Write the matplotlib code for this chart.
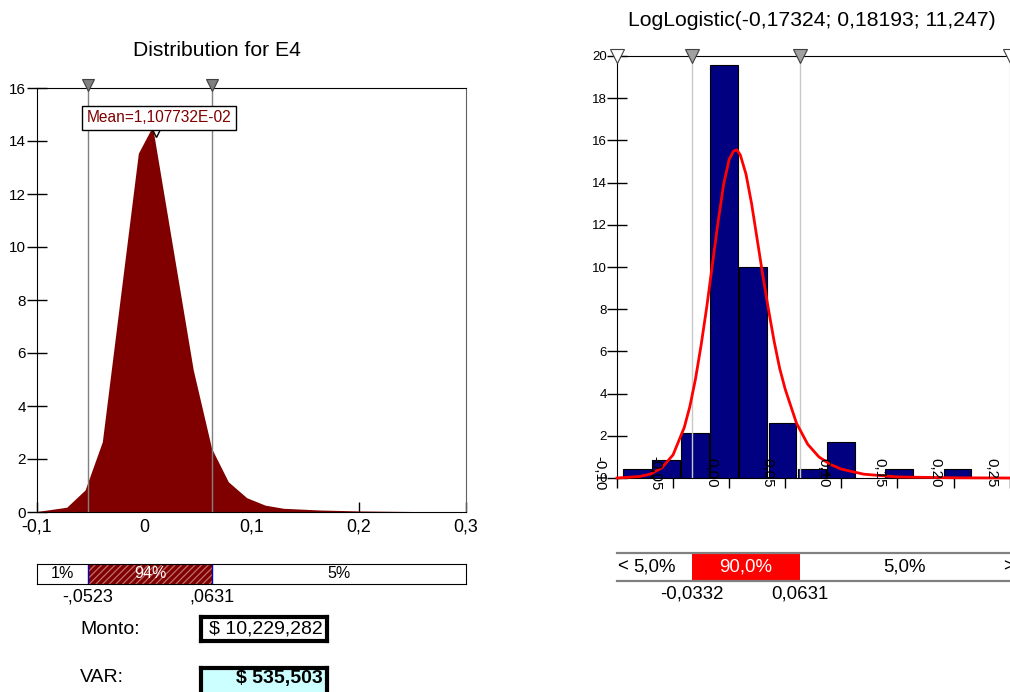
import matplotlib
matplotlib.use("Agg")
import matplotlib.pyplot as plt

plt.rcParams['font.family'] = ['Liberation Sans', 'DejaVu Sans']
plt.rcParams['hatch.linewidth'] = 0.9

# ---------------- data ----------------
left_title = "Distribution for E4"
dist_x = [-0.100, -0.0723, -0.0552, -0.0391, -0.0055, 0.0077, 0.0457, 0.0628,
          0.0784, 0.0955, 0.1126, 0.1297, 0.1639, 0.2010, 0.2690, 0.2700]
dist_y = [0.02, 0.18, 0.83, 2.65, 13.54, 14.55, 5.36, 2.40,
          1.14, 0.54, 0.26, 0.14, 0.075, 0.04, 0.01, 0.0]
left_mean = 0.01107732
left_mean_label = "Mean=1,107732E-02"
left_pcts = [-0.0523, 0.0631]
left_pct_labels = ["-,0523", ",0631"]
left_band_labels = ["1%", "94%", "5%"]
left_xticks = [-0.1, 0.0, 0.1, 0.2, 0.3]
left_xticklabels = ["-0,1", "0", "0,1", "0,2", "0,3"]
left_yticks = [0, 2, 4, 6, 8, 10, 12, 14, 16]

right_title = "LogLogistic(-0,17324; 0,18193; 11,247)"
bin_left = [-0.0955, -0.0695, -0.0435, -0.0175, 0.0085, 0.0345, 0.0605, 0.0865,
            0.1125, 0.1385, 0.1645, 0.1905]
bin_width = 0.026
bin_heights = [0.41, 0.85, 2.15, 19.57, 9.98, 2.59, 0.41, 1.71, 0.0, 0.41, 0.0, 0.41]
fit_x = [-0.100, -0.080, -0.070, -0.060, -0.050, -0.040, -0.035, -0.030, -0.025,
         -0.020, -0.015, -0.010, -0.005, 0.000, 0.004, 0.007, 0.010, 0.015, 0.020,
         0.025, 0.030, 0.035, 0.040, 0.045, 0.050, 0.060, 0.070, 0.080, 0.090,
         0.100, 0.120, 0.150, 0.200, 0.250]
fit_y = [0.0, 0.07, 0.19, 0.48, 1.1, 2.4, 3.4, 4.7, 6.3,
         8.1, 10.1, 12.1, 13.9, 15.1, 15.5, 15.55, 15.3, 14.4, 13.0,
         11.3, 9.6, 8.0, 6.5, 5.2, 4.2, 2.6, 1.6, 1.0, 0.65,
         0.42, 0.18, 0.05, 0.01, 0.0]
right_pcts = [-0.0332, 0.0631]
right_pct_labels = ["-0,0332", "0,0631"]
right_band_labels = ["5,0%", "90,0%", "5,0%"]
right_xticks = [-0.10, -0.05, 0.00, 0.05, 0.10, 0.15, 0.20, 0.25]
right_xticklabels = ["-0,10", "-0,05", "0,00", "0,05", "0,10", "0,15", "0,20", "0,25"]
right_yticks = [0, 2, 4, 6, 8, 10, 12, 14, 16, 18, 20]

monto_label = "Monto:"
monto_value = "$ 10,229,282"
var_label = "VAR:"
var_value = "$ 535,503"

# ---------------- layout helpers ----------------
W, H = 1010, 692
fig = plt.figure(figsize=(W / 100, H / 100), dpi=100)
fig.patch.set_facecolor('white')


def fax(x0, y0, x1, y1):
    return fig.add_axes([x0 / W, 1 - y1 / H, (x1 - x0) / W, (y1 - y0) / H])


# ---------------- left chart ----------------
axL = fax(37, 88, 466, 512)
axL.set_xlim(-0.1, 0.3)
axL.set_ylim(0, 16)
axL.fill_between(dist_x, dist_y, 0, color='#800000', lw=0, zorder=2)
for p in left_pcts:
    axL.axvline(p, color='#808080', lw=1, zorder=3)
transL = axL.get_xaxis_transform()
axL.plot(left_pcts, [1.008] * len(left_pcts), 'v', ms=9, mfc='#808080', mec='#404040',
         mew=0.8, transform=transL, clip_on=False, zorder=6)
axL.plot([left_mean], [14.33], 'v', ms=7, mfc='white', mec='black', mew=1, zorder=7)
axL.text(0.0137, 14.87, left_mean_label, color='#800000', fontsize=11.2, ha='center',
         va='center', zorder=8,
         bbox=dict(boxstyle='square,pad=0.3', fc='white', ec='black', lw=1))
axL.set_yticks(left_yticks)
axL.set_yticklabels([str(v) for v in left_yticks])
axL.set_xticks(left_xticks)
axL.set_xticklabels(left_xticklabels)
axL.tick_params(axis='y', direction='inout', length=14, width=1, pad=1, labelsize=11)
axL.tick_params(axis='x', direction='in', length=7, width=1, pad=5, labelsize=12.8)
for s in ['left', 'top', 'bottom']:
    axL.spines[s].set_color('black')
axL.spines['right'].set_color('#606060')
fig.text(217 / W, 1 - 51 / H, left_title, ha='center', va='center', fontsize=15.2)

# left band
axLB = fax(37, 563.5, 466, 584)
axLB.set_xlim(-0.1, 0.3)
axLB.set_ylim(0, 1)
axLB.set_xticks([])
axLB.set_yticks([])
axLB.axvspan(left_pcts[0], left_pcts[1], facecolor='#800000', edgecolor='#c07070',
             hatch='/////', lw=0)
for p in left_pcts:
    axLB.axvline(p, color='#0000c0', lw=1)
band_edges_L = [-0.1, left_pcts[0], left_pcts[1], 0.3]
for i, lab in enumerate(left_band_labels):
    axLB.text((band_edges_L[i] + band_edges_L[i + 1]) / 2, 0.5, lab, ha='center',
              va='center', fontsize=11.6, color='white' if i == 1 else 'black')
tLB = axLB.get_xaxis_transform()
for p, lab in zip(left_pcts, left_pct_labels):
    axLB.text(p, -0.62, lab, transform=tLB, ha='center', va='center', fontsize=13)

# Monto / VAR boxes
fig.text(80 / W, 1 - 630 / H, monto_label, ha='left', va='center', fontsize=14)
fig.text(80 / W, 1 - 678 / H, var_label, ha='left', va='center', fontsize=14)
axM = fax(201, 616.5, 327, 641)
axV = fax(201, 668, 327, 696)
for a, txt, fc, yy, wt in [(axM, monto_value, 'white', 0.5, 'normal'),
                            (axV, var_value, '#ccffff', 0.63, 'bold')]:
    a.set_xticks([])
    a.set_yticks([])
    a.set_facecolor(fc)
    for s in a.spines.values():
        s.set_linewidth(3)
        s.set_color('black')
    a.text(0.968, yy, txt, transform=a.transAxes, ha='right', va='center',
           fontsize=14, fontweight=wt)

# ---------------- right chart ----------------
axR = fax(617, 56, 1009.6, 478)
axR.set_xlim(-0.1, 0.25)
axR.set_ylim(0, 20)
gap = 0.0012
bx = [b + gap / 2 for b, h in zip(bin_left, bin_heights) if h > 0]
bh = [h for h in bin_heights if h > 0]
axR.bar(bx, bh, width=bin_width - gap, align='edge', color='#000080',
        edgecolor='black', lw=0.8, zorder=2)
for p in right_pcts:
    axR.axvline(p, color='#c8c8c8', lw=1, zorder=3)
axR.plot(fit_x, fit_y, color='#ff0000', lw=2, zorder=4, clip_on=False)
transR = axR.get_xaxis_transform()
axR.plot([-0.1, 0.25], [1.0, 1.0], 'v', ms=10, mfc='white', mec='#404040', mew=0.8,
         transform=transR, clip_on=False, zorder=6)
axR.plot(right_pcts, [1.0, 1.0], 'v', ms=10, mfc='#a0a0a0', mec='#404040', mew=0.8,
         transform=transR, clip_on=False, zorder=6)
axR.set_yticks(right_yticks)
axR.set_yticklabels([str(v) for v in right_yticks])
axR.set_xticks(right_xticks)
axR.set_xticklabels([])
axR.tick_params(axis='y', direction='inout', length=14, width=1, pad=0.5, labelsize=9.5)
axR.tick_params(axis='x', direction='out', length=7, width=1)
for t, lab in zip(right_xticks, right_xticklabels):
    axR.text(t - 0.016, 0.25, lab, rotation=270, ha='center', va='center',
             fontsize=10.8, zorder=5, clip_on=False)
axR.spines['right'].set_color('#808080')
fig.text(812 / W, 1 - 20 / H, right_title, ha='center', va='center', fontsize=15.2)

# right band
axRB = fax(617, 553.3, 1009.6, 580.7)
axRB.set_xlim(-0.1, 0.25)
axRB.set_ylim(0, 1)
axRB.set_xticks([])
axRB.set_yticks([])
axRB.spines['left'].set_visible(False)
axRB.spines['right'].set_visible(False)
for s in ['top', 'bottom']:
    axRB.spines[s].set_color('#808080')
    axRB.spines[s].set_linewidth(1.6)
axRB.axvspan(right_pcts[0], right_pcts[1], color='#ff0000', lw=0)
band_edges_R = [-0.1, right_pcts[0], right_pcts[1], 0.25]
for i, lab in enumerate(right_band_labels):
    axRB.text((band_edges_R[i] + band_edges_R[i + 1]) / 2, 0.5, lab, ha='center',
              va='center', fontsize=13.4, color='white' if i == 1 else 'black')
axRB.text(-0.1, 0.5, "<", ha='left', va='center', fontsize=13.4)
axRB.text(0.2445, 0.5, ">", ha='left', va='center', fontsize=13.4, clip_on=False)
tRB = axRB.get_xaxis_transform()
for p, lab in zip(right_pcts, right_pct_labels):
    axRB.text(p, -0.49, lab, transform=tRB, ha='center', va='center', fontsize=13.4)

fig.savefig('out.png', dpi=100)
